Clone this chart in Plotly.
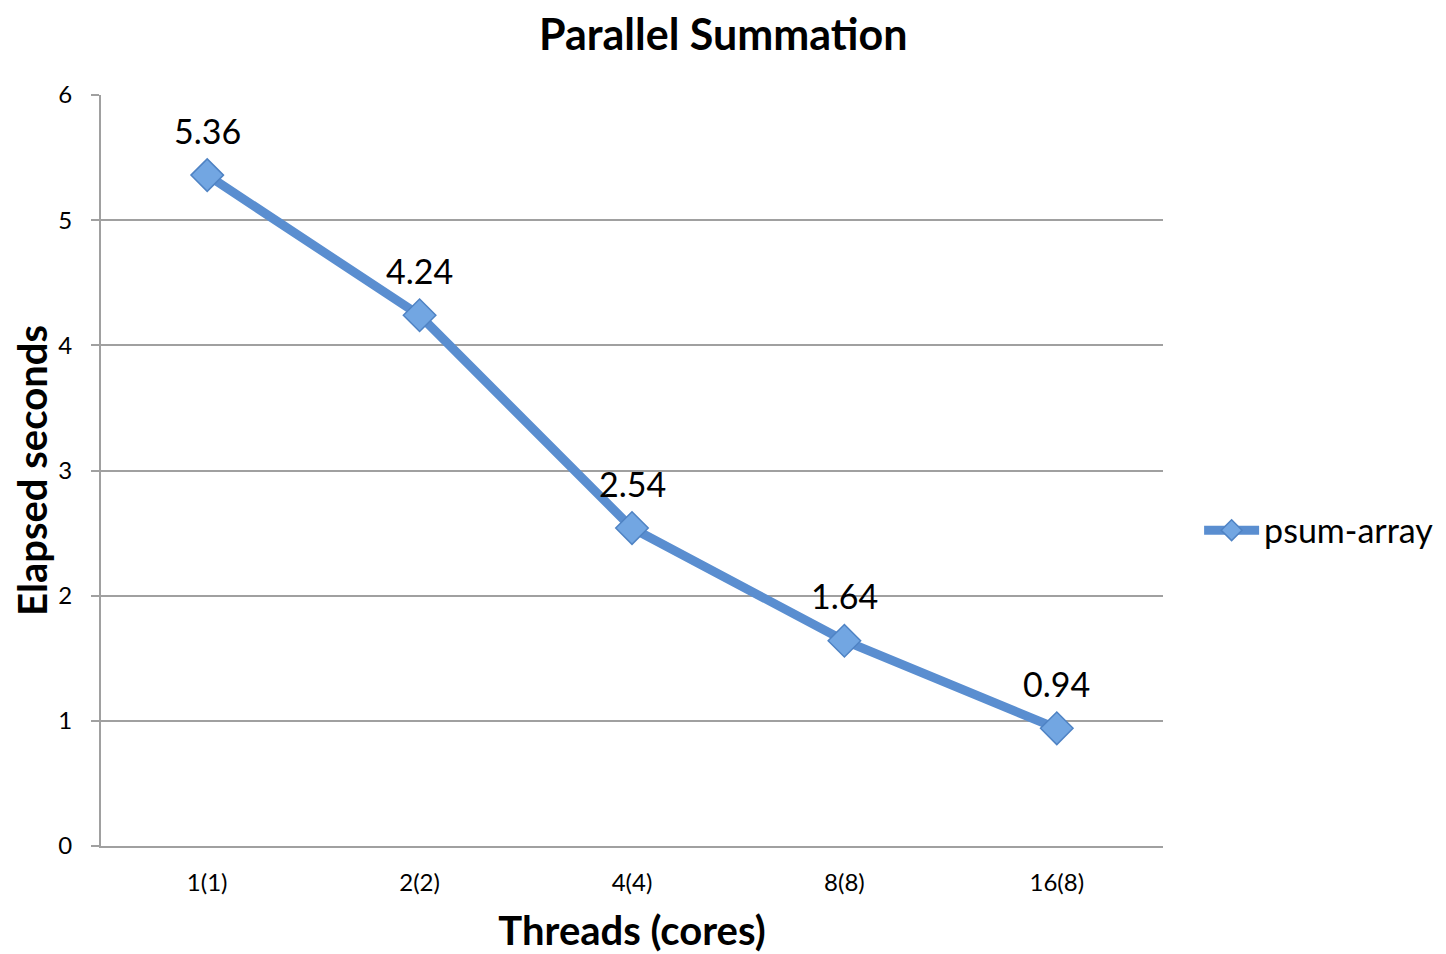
import plotly.graph_objects as go

categories = ["1(1)", "2(2)", "4(4)", "8(8)", "16(8)"]
seconds = [5.36, 4.24, 2.54, 1.64, 0.94]
labels = ["5.36", "4.24", "2.54", "1.64", "0.94"]
series_name = "psum-array"

FONT = "Lato, 'Open Sans', sans-serif"
BLUE = "#5A8ED0"

fig = go.Figure()
fig.add_trace(go.Scatter(
    x=categories, y=seconds, mode="lines+markers", name=series_name,
    line=dict(color=BLUE, width=9),
    marker=dict(symbol="diamond", size=25, color="#72A6E2",
                line=dict(color="#4F83C4", width=1.5)),
))

for c, v, t in zip(categories, seconds, labels):
    fig.add_annotation(x=c, y=v, text=t, showarrow=False, yshift=45,
                       font=dict(family=FONT, size=34, color="black"))

fig.update_layout(
    width=1439, height=946,
    paper_bgcolor="white", plot_bgcolor="white",
    margin=dict(l=93, r=284, t=87, b=108, autoexpand=False),
    title=dict(text="<b>Parallel Summation</b>", x=0.497, xanchor="center",
               y=0.972, yanchor="middle",
               font=dict(family=FONT, size=43, color="black")),
    showlegend=True,
    legend=dict(x=1.034, y=0.42, xanchor="left", yanchor="middle",
                font=dict(family=FONT, size=34, color="black"),
                bgcolor="rgba(0,0,0,0)", itemwidth=55),
    font=dict(family=FONT, color="black"),
)

fig.update_xaxes(
    type="category", range=[-0.5, 4.5], automargin=False,
    showline=True, linecolor="#a0a0a0", linewidth=2,
    showgrid=False, ticks="", tickfont=dict(size=24, family=FONT),
    ticklabelstandoff=14,
    title=dict(text="<b>Threads (cores)</b>", font=dict(size=40, family=FONT), standoff=22),
)
fig.update_yaxes(
    range=[0, 6], dtick=1, automargin=False,
    showline=True, linecolor="#a0a0a0", linewidth=2,
    showgrid=True, gridcolor="#a0a0a0", gridwidth=1.5,
    ticks="outside", ticklen=8, tickcolor="#a0a0a0", tickwidth=2,
    tickfont=dict(size=24, family=FONT), zeroline=False,
    ticklabelstandoff=14,
    title=dict(text="<b>Elapsed seconds</b>", font=dict(size=40, family=FONT), standoff=16),
)

fig.write_html("out.html")
